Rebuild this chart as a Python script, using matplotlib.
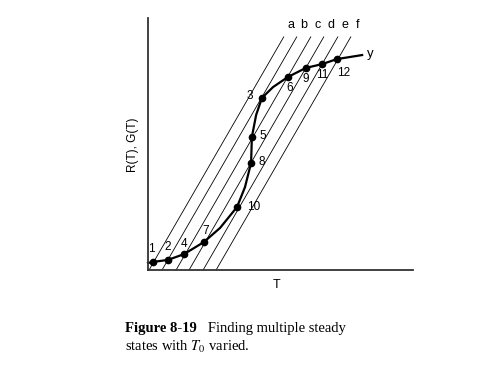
import matplotlib
matplotlib.use("Agg")
import matplotlib.pyplot as plt

# ---- data (T, R/G in arbitrary units) ----
line_names = ["a", "b", "c", "d", "e", "f"]
line_T0 = [0.04, 0.53, 1.06, 1.55, 2.08, 2.57]   # T where R(T)=0
line_slope = 1.82
line_top = 9.25
label_R = 9.72

curve_T = [0.00, 0.19, 0.75, 1.36, 2.11, 2.72, 3.36, 3.66, 3.89, 3.92, 4.08,
           4.30, 4.72, 5.28, 5.96, 6.57, 7.13, 8.08]
curve_G = [0.28, 0.32, 0.40, 0.63, 1.11, 1.67, 2.50, 3.29, 4.25, 5.28, 6.15,
           6.83, 7.26, 7.66, 8.02, 8.17, 8.37, 8.53]

state_labels = ["1", "2", "4", "7", "10", "8", "5", "3", "6", "9", "11", "12"]
state_T = [0.19, 0.75, 1.36, 2.11, 3.36, 3.89, 3.92, 4.30, 5.28, 5.96, 6.57, 7.13]
state_G = [0.32, 0.40, 0.63, 1.11, 2.50, 4.25, 5.28, 6.83, 7.66, 8.02, 8.17, 8.37]
label_dx = [-1, 0, 0, 1, 12, 8, 8, -9, 1, 0, 0, 5]       # label offsets (points)
label_dy = [9, 9, 7, 8, 0, 1, 1, 1, -8, -8, -8, -10]

W, H = 494, 367
plt.rcParams["mathtext.fontset"] = "stix"
fig = plt.figure(figsize=(W / 100, H / 100), dpi=100)
ax = fig.add_axes([148 / W, (H - 270) / H, (413 - 148) / W, (270 - 18) / H])
ax.set_xlim(0, 10)
ax.set_ylim(0, 10)
for s in ["top", "right"]:
    ax.spines[s].set_visible(False)
for s in ["left", "bottom"]:
    ax.spines[s].set_linewidth(1.3)
    ax.spines[s].set_color("#333333")
ax.set_xticks([])
ax.set_yticks([])

for name, t0 in zip(line_names, line_T0):
    t_top = t0 + line_top / line_slope
    ax.plot([t0, t_top], [0, line_top], color="black", lw=0.6, clip_on=False)
    ax.text(t0 + label_R / line_slope, label_R, name, fontsize=9,
            ha="center", va="center", family="Liberation Sans")

ax.plot(curve_T, curve_G, color="black", lw=1.6, clip_on=False)
ax.plot(state_T, state_G, "o", color="black", ms=4.5, clip_on=False)
for lab, t, g, dx, dy in zip(state_labels, state_T, state_G, label_dx, label_dy):
    ax.annotate(lab, (t, g), xytext=(dx, dy), textcoords="offset points",
                ha="center", va="center", fontsize=8.5, family="Liberation Sans")
ax.annotate("y", (curve_T[-1], curve_G[-1]), xytext=(6, 1), textcoords="offset points",
            ha="center", va="center", fontsize=9.5, family="Liberation Sans")

fig.text(133 / W, 1 - 145 / H, "R(T), G(T)", rotation=90, ha="center", va="center",
         fontsize=8.5, family="Liberation Sans")
fig.text(277 / W, 1 - 285 / H, "T", ha="center", va="center",
         fontsize=9, family="Liberation Sans")

t1 = fig.text(125 / W, 1 - 335 / H, "Figure 8-19", fontsize=10.5, fontweight="bold",
              family="Liberation Serif", va="bottom")
ax.annotate("   Finding multiple steady", xy=(1, 0), xycoords=t1, va="bottom",
            fontsize=10.5, family="Liberation Serif", annotation_clip=False)
fig.text(125 / W, 1 - 355 / H, r"states with $T_0$ varied.", fontsize=10.5,
         family="Liberation Serif", va="bottom")

fig.savefig("out.png", dpi=100)
